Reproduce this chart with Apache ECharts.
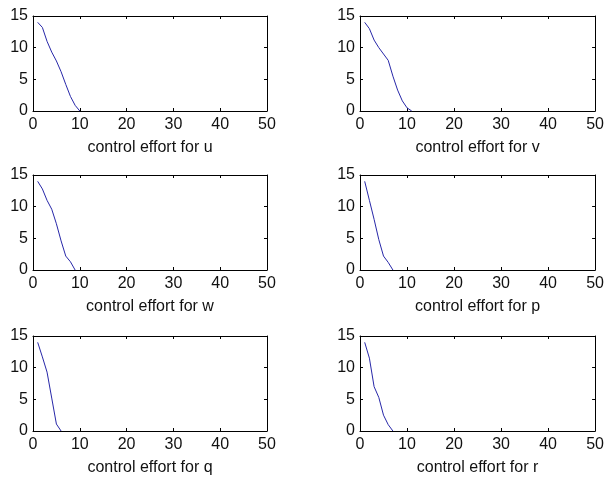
<!DOCTYPE html>
<html>
<head>
<meta charset="utf-8">
<script src="https://cdn.jsdelivr.net/npm/echarts@6/dist/echarts.min.js"></script>
<style>
  html, body { margin: 0; padding: 0; background: #fff; }
  #chart { width: 607px; height: 481px; }
</style>
</head>
<body>
<div id="chart"></div>
<script>
// values (step index -> control effort)
const stepsU = [1, 2, 3, 4, 5, 6, 7, 8, 9, 10]
const effortU = [14, 13.2, 11, 9.3, 7.9, 6.2, 4.2, 2.3, 0.9, 0]
const stepsV = [1, 2, 3, 4, 5, 6, 7, 8, 9, 10, 11]
const effortV = [14, 13, 11.2, 10, 9, 8, 5.5, 3.3, 1.6, 0.5, 0]
const stepsW = [1, 2, 3, 4, 5, 6, 7, 8, 9]
const effortW = [14, 12.8, 11, 9.6, 7.3, 4.6, 2.2, 1.3, 0]
const stepsP = [1, 2, 3, 4, 5, 6, 7]
const effortP = [14, 11, 8, 4.8, 2.2, 1.2, 0]
const stepsQ = [1, 2, 3, 4, 5, 6]
const effortQ = [14, 11.7, 9.3, 5.2, 1.1, 0]
const stepsR = [1, 2, 3, 4, 5, 6, 7]
const effortR = [14, 11.5, 7, 5.3, 2.5, 1, 0]

const xTicks = [0, 10, 20, 30, 40, 50]
const yTicks = [0, 5, 10, 15]
const labels = [
  'control effort for u', 'control effort for v',
  'control effort for w', 'control effort for p',
  'control effort for q', 'control effort for r'
]

const panels = [
  { x: stepsU, y: effortU, left: 33, top: 16, right: 340 },
  { x: stepsV, y: effortV, left: 360, top: 16, right: 10 },
  { x: stepsW, y: effortW, left: 33, top: 175, right: 340 },
  { x: stepsP, y: effortP, left: 360, top: 175, right: 10 },
  { x: stepsQ, y: effortQ, left: 33, top: 336, right: 340 },
  { x: stepsR, y: effortR, left: 360, top: 336, right: 5 }
]

const font = 'Arial, "Liberation Sans", Helvetica, sans-serif'
const lineColor = '#2727a8'

const grid = []
const xAxis = []
const yAxis = []
const series = []

panels.forEach((p, i) => {
  grid.push({ left: p.left, top: p.top, right: p.right, height: 95 })
  const tick = { show: true, inside: true, length: 3, lineStyle: { color: '#000' } }
  const line = { show: true, onZero: false, lineStyle: { color: '#000', width: 1 } }
  // bottom axis with labels
  xAxis.push({
    type: 'value',
    gridIndex: i,
    position: 'bottom',
    min: xTicks[0],
    max: xTicks[xTicks.length - 1],
    interval: 10,
    axisLine: line,
    axisTick: tick,
    splitLine: { show: false },
    axisLabel: { color: '#111', fontSize: 16, fontFamily: font, margin: 6 },
    name: labels[i],
    nameLocation: 'middle',
    nameGap: 29,
    nameTextStyle: { color: '#111', fontSize: 16, fontFamily: font }
  })
  // top axis, box only
  xAxis.push({
    type: 'value',
    gridIndex: i,
    position: 'top',
    min: 0,
    max: 50,
    interval: 10,
    axisLine: line,
    axisTick: tick,
    splitLine: { show: false },
    axisLabel: { show: false }
  })
  yAxis.push({
    type: 'value',
    gridIndex: i,
    position: 'left',
    min: yTicks[0],
    max: yTicks[yTicks.length - 1],
    interval: 5,
    axisLine: line,
    axisTick: tick,
    splitLine: { show: false },
    axisLabel: { color: '#111', fontSize: 16, fontFamily: font, margin: 5 }
  })
  yAxis.push({
    type: 'value',
    gridIndex: i,
    position: 'right',
    min: 0,
    max: 15,
    interval: 5,
    axisLine: line,
    axisTick: tick,
    splitLine: { show: false },
    axisLabel: { show: false }
  })
  series.push({
    type: 'line',
    xAxisIndex: i * 2,
    yAxisIndex: i * 2,
    showSymbol: false,
    animation: false,
    lineStyle: { color: lineColor, width: 1 },
    data: p.x.map((v, k) => [v, p.y[k]])
  })
})

const chart = echarts.init(document.getElementById('chart'))
chart.setOption({
  backgroundColor: '#fff',
  animation: false,
  grid: grid,
  xAxis: xAxis,
  yAxis: yAxis,
  series: series
})
</script>
</body>
</html>
